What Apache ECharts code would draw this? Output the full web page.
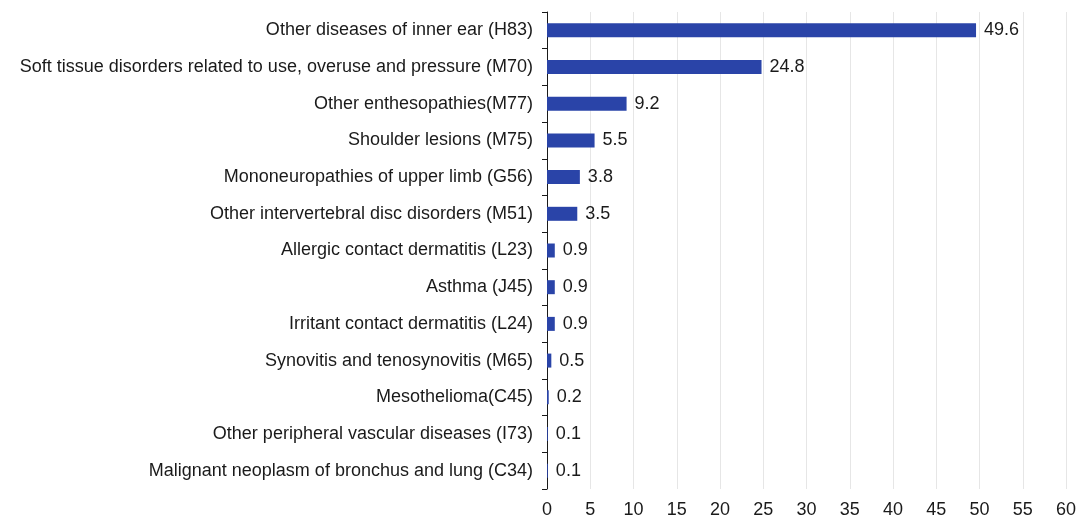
<!DOCTYPE html>
<html><head><meta charset="utf-8">
<script src="https://cdn.jsdelivr.net/npm/echarts@6/dist/echarts.min.js"></script>
<style>html,body{margin:0;padding:0;background:#fff}#c{width:1080px;height:519px}</style>
</head><body><div id="c"></div>
<script>
const categories = [
  "Other diseases of inner ear (H83)",
  "Soft tissue disorders related to use, overuse and pressure (M70)",
  "Other enthesopathies(M77)",
  "Shoulder lesions (M75)",
  "Mononeuropathies of upper limb (G56)",
  "Other intervertebral disc disorders (M51)",
  "Allergic contact dermatitis (L23)",
  "Asthma (J45)",
  "Irritant contact dermatitis (L24)",
  "Synovitis and tenosynovitis (M65)",
  "Mesothelioma(C45)",
  "Other peripheral vascular diseases (I73)",
  "Malignant neoplasm of bronchus and lung (C34)"
];
const values = [49.6, 24.8, 9.2, 5.5, 3.8, 3.5, 0.9, 0.9, 0.9, 0.5, 0.2, 0.1, 0.1];
const xTicks = {min: 0, max: 60, interval: 5};

const chart = echarts.init(document.getElementById('c'), null, {renderer: 'canvas'});
const font = "'Liberation Sans', Arial, sans-serif";
chart.setOption({
  animation: false,
  grid: {left: 547, right: 14, top: 12, bottom: 29, containLabel: false},
  xAxis: {
    type: 'value', min: xTicks.min, max: xTicks.max, interval: xTicks.interval,
    axisLine: {show: false}, axisTick: {show: false},
    splitLine: {show: true, lineStyle: {color: '#e6e6e6', width: 1}},
    axisLabel: {color: '#1a1a1a', fontSize: 18, fontFamily: font, margin: 12}
  },
  yAxis: {
    type: 'category', data: categories, inverse: true,
    axisLine: {show: true, lineStyle: {color: '#1a1a1a', width: 1}},
    axisTick: {show: true, length: 5, lineStyle: {color: '#1a1a1a'}},
    axisLabel: {color: '#1a1a1a', fontSize: 18, fontFamily: font, margin: 14},
    splitLine: {show: false}
  },
  series: [{
    type: 'bar', data: values, barWidth: 14,
    itemStyle: {color: '#2a44a8'},
    label: {show: true, position: 'right', distance: 8, color: '#1a1a1a', fontSize: 18, fontFamily: font,
      formatter: p => p.value.toFixed(1)}
  }]
});
</script></body></html>
